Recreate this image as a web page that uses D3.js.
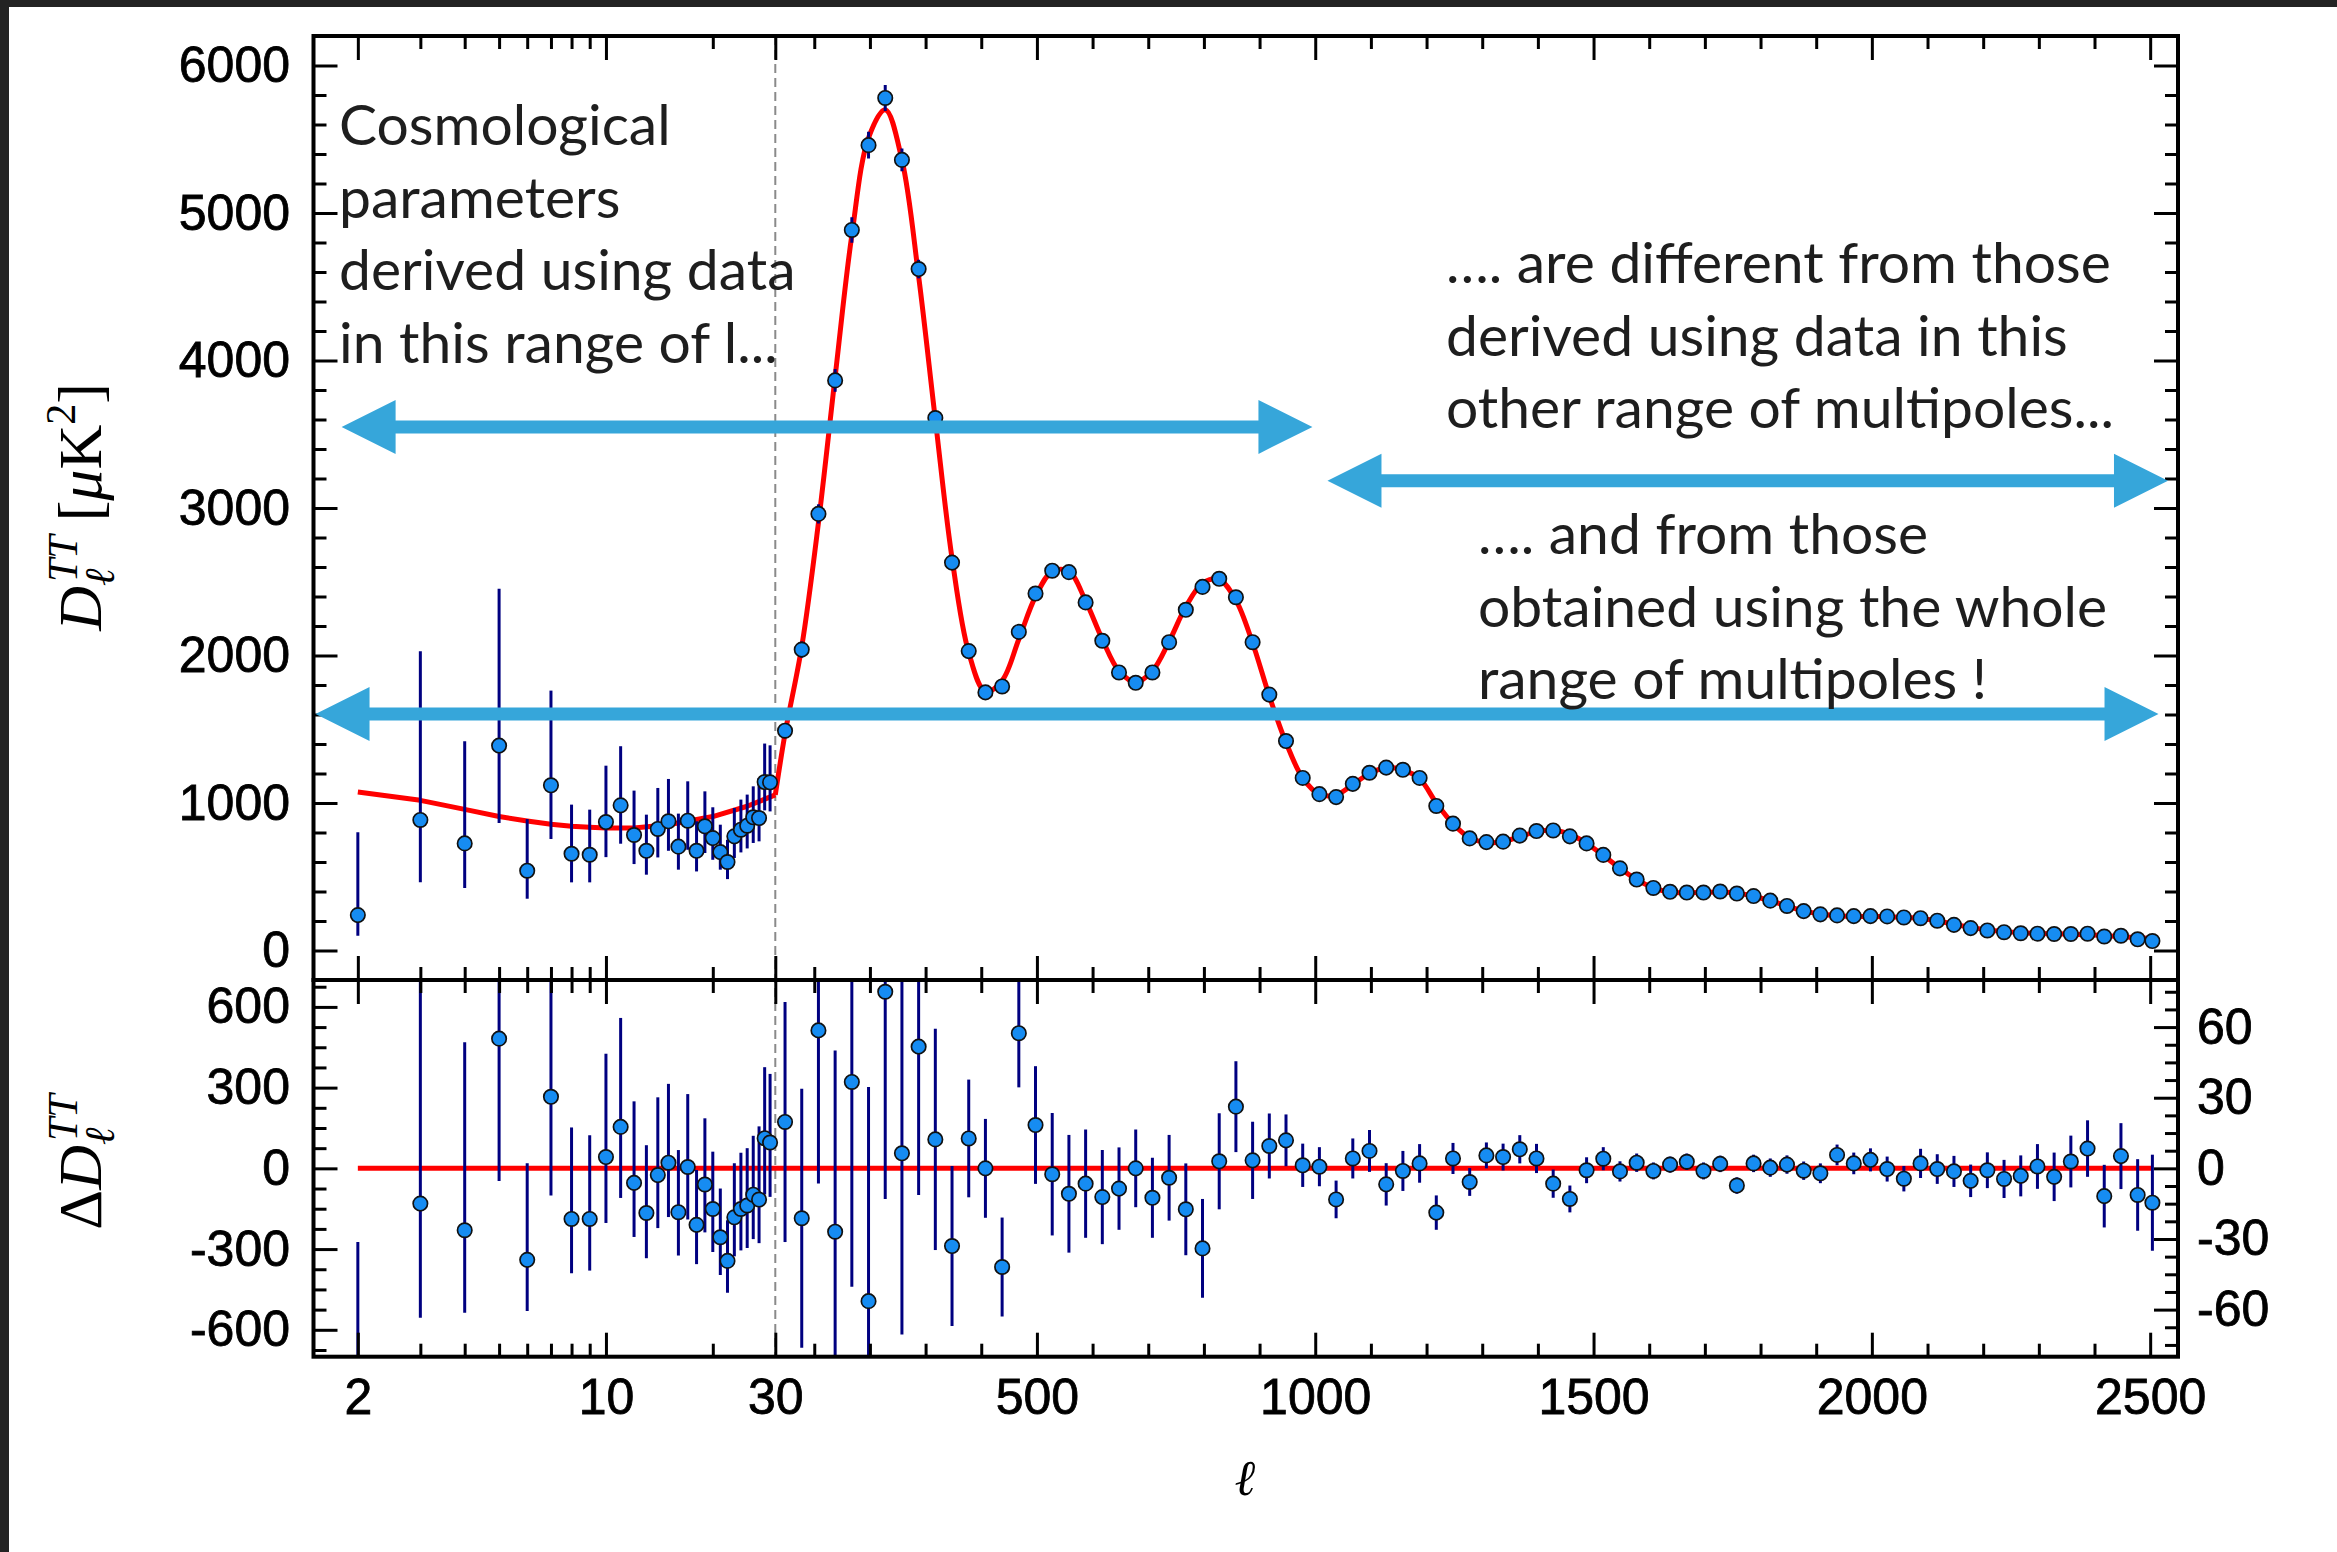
<!DOCTYPE html>
<html>
<head>
<meta charset="utf-8">
<script src="https://cdn.jsdelivr.net/npm/d3@7"></script>
<style>
  html, body { margin: 0; padding: 0; background: #fff; }
  svg { display: block; }
</style>
</head>
<body>
<svg id="chart" width="2337" height="1552"></svg>
<script>
// ---------------- data ----------------
// Low multipoles (unbinned, l = 2..29): D_l with asymmetric error-bar ends
const lowEll = [2, 3, 4, 5, 6, 7, 8, 9, 10, 11, 12, 13, 14, 15, 16, 17, 18, 19, 20, 21, 22, 23, 24, 25, 26, 27, 28, 29];
const lowD   = [240, 885, 726, 1389, 541, 1120, 656, 649, 871, 984, 783, 676, 824, 876, 704, 880, 676, 842, 762, 667, 600, 774, 819, 846, 903, 898, 1142, 1140];
const lowDLo = [100, 462, 423, 864, 351, 756, 462, 462, 633, 724, 586, 514, 631, 676, 548, 683, 536, 661, 615, 548, 484, 627, 665, 692, 729, 740, 950, 943];
const lowDHi = [801, 2029, 1419, 2452, 891, 1762, 989, 955, 1253, 1385, 1084, 921, 1102, 1163, 928, 1147, 876, 1079, 971, 853, 751, 966, 1023, 1057, 1113, 1170, 1403, 1391];

// Low-l residuals (left-hand scale) and their error-bar ends
const lowRes   = [-835, -131, -230, 482, -340, 266, -188, -188, 42, 154, -54, -166, -25, 21, -163, 5, -210, -60, -151, -256, -344, -182, -151, -138, -98, -116, 112, 96];
const lowResLo = [-975, -555, -537, -47, -530, -101, -390, -380, -203, -110, -255, -334, -222, -181, -324, -190, -356, -238, -311, -396, -462, -327, -305, -296, -263, -278, -97, -106];
const lowResHi = [-274, 1013, 469, 1545, 19, 908, 152, 123, 426, 559, 249, 86, 264, 314, 68, 276, -6, 186, 62, -75, -193, 19, 58, 75, 121, 156, 376, 351];

// High multipoles, binned (bin centres)
const binEll = [47.5, 77.5, 107.5, 137.5, 167.5, 197.5, 227.5, 257.5, 287.5, 317.5, 347.5, 377.5, 407.5, 437.5, 467.5, 497.5, 527.5, 557.5, 587.5, 617.5, 647.5, 677.5, 707.5, 737.5, 767.5, 797.5, 827.5, 857.5, 887.5, 917.5, 947.5, 977.5, 1007.5, 1037.5, 1067.5, 1097.5, 1127.5, 1157.5, 1187.5, 1217.5, 1247.5, 1277.5, 1307.5, 1337.5, 1367.5, 1397.5, 1427.5, 1457.5, 1487.5, 1517.5, 1547.5, 1577.5, 1607.5, 1637.5, 1667.5, 1697.5, 1727.5, 1757.5, 1787.5, 1817.5, 1847.5, 1877.5, 1907.5, 1937.5, 1967.5, 1997.5, 2027.5, 2057.5, 2087.5, 2117.5, 2147.5, 2177.5, 2207.5, 2237.5, 2267.5, 2297.5, 2327.5, 2357.5, 2387.5, 2417.5, 2447.5, 2477.5, 2504];
const binD = [1490, 2040, 2960, 3865, 4885, 5460, 5780, 5360, 4620, 3610, 2630, 2030, 1750, 1790, 2160, 2420, 2575, 2565, 2360, 2100, 1885, 1815, 1885, 2090, 2310, 2465, 2520, 2395, 2090, 1735, 1420, 1170, 1060, 1040, 1130, 1205, 1240, 1225, 1170, 980, 860, 760, 735, 738, 779, 810, 814, 774, 726, 648, 557, 481, 424, 398, 393, 393, 400, 386, 369, 338, 302, 267, 245, 238, 233, 233, 231, 224, 219, 202, 174, 152, 136, 124, 117, 114, 112, 112, 114, 95, 100, 76, 64];
const binSigma = [51, 55, 65, 77, 87, 91, 88, 77, 63, 47, 34, 25, 21, 21, 23, 25, 26, 25, 23, 20, 17.5, 16.5, 17, 18.2, 19.5, 21, 20.4, 19.3, 16.4, 13.8, 11, 9.2, 8.3, 8, 8.5, 8.9, 9, 8.5, 8.2, 7.3, 6.6, 5.9, 5.5, 5.7, 6, 6.2, 6, 5.7, 5.5, 4.9, 4.3, 3.9, 3.6, 3.4, 3.5, 3.6, 3.5, 3.5, 3.7, 3.9, 3.9, 3.9, 4.2, 4.4, 4.6, 4.9, 5.3, 5.4, 6.2, 6.3, 6.6, 6.9, 7.6, 8.1, 8.7, 9.5, 10.3, 11, 12, 13.3, 14, 15.2, 20.4];
// Binned residuals (right-hand scale)
const binRes = [19.7, -21.2, 58.6, -26.9, 36.7, -56.4, 75, 6.4, 51.7, 12.3, -33, 12.7, 0, -41.9, 57.4, 18.4, -2.5, -10.8, -6.5, -12.2, -8.6, 0, -12.5, -4, -17.4, -34, 3, 26.2, 3.4, 9.5, 11.9, 1.3, 0.7, -13.2, 4.2, 7.4, -6.8, -1.1, 2.1, -18.8, 4.2, -5.8, 5.5, 4.8, 8.1, 4.2, -6.5, -13, -0.8, 4.1, -1.3, 2.4, -1.1, 1.6, 2.8, -1.1, 1.9, -7.3, 2.1, 0.3, 1.6, -1, -2.1, 5.7, 2.1, 3.6, -0.3, -4.4, 2.1, -0.3, -1.3, -5.3, -0.8, -4.5, -3.2, 0.8, -3.6, 2.9, 8.4, -11.8, 5.2, -11.3, -14.6];

// Best-fit model curve
const modelLowEll = [2, 3, 4, 5, 6, 7, 8, 9, 10, 12, 15, 20, 25, 30];
const modelLowD   = [1075, 1018, 957, 908, 878, 856, 843, 835, 830, 830, 852, 908, 978, 1055];
const modelHighEll = [30].concat(binEll);
const modelHighD = [1055, 1470, 2060, 2900, 3890, 4850, 5510, 5700, 5360, 4570, 3600, 2660, 2020, 1755, 1830, 2110, 2400, 2570, 2570, 2370, 2110, 1895, 1820, 1895, 2095, 2330, 2490, 2515, 2375, 2085, 1725, 1410, 1170, 1060, 1055, 1125, 1200, 1240, 1225, 1165, 1000, 860, 765, 732, 738, 772, 806, 817, 787, 727, 645, 558, 480, 425, 396, 391, 394, 396, 390, 368, 338, 302, 269, 247, 236, 232, 231, 229, 225, 216, 202, 177, 157, 140, 128, 120, 115, 113, 111, 107, 101, 94, 87, 80];

// Tick values / labels
const xMajorLog = [2, 10];
const xMinorLog = [3, 4, 5, 6, 7, 8, 9, 20];
const xMajorLin = [30, 500, 1000, 1500, 2000, 2500];
const yTopMajor = [0, 1000, 2000, 3000, 4000, 5000, 6000];
const yResLowMajor = [-600, -300, 0, 300, 600];
const yResHighMajor = [-60, -30, 0, 30, 60];

// ---------------- layout ----------------
const W = 2337, H = 1552;
const F = { left: 313.5, right: 2178, top: 36, mid: 980, bottom: 1356.7, brk: 775.3 };
const MAJ = 24, MIN = 13;
const TICK_FONT = "'Liberation Sans', Arial, Helvetica, sans-serif";
const MATH_FONT = "'Liberation Serif', 'DejaVu Serif', 'Times New Roman', serif";
const NOTE_FONT = "Lato, 'Open Sans', sans-serif";
const POINT_FILL = "#168cf2", BAR = "#000080", MODEL = "#ff0000", NOTE_BLUE = "#36a6da";
const PT_R = 7.2;

const svg = d3.select("#chart");

// scales: log below l=30, linear above
const xLog = d3.scaleLog().domain([1.5, 30]).range([F.left, F.brk]);
const xLin = d3.scaleLinear().domain([30, 2550]).range([F.brk, F.right]);
const xAt = l => (l < 30 ? xLog(l) : xLin(l));
const yTop = d3.scaleLinear().domain([-200, 6200]).range([F.mid, F.top]);
const yResLow = d3.scaleLinear().domain([-700, 700]).range([F.bottom, F.mid]);
const yResHigh = d3.scaleLinear().domain([-80, 80]).range([F.bottom, F.mid]);

// background and dark page edges
svg.append("rect").attr("width", W).attr("height", H).attr("fill", "#fff");
svg.append("rect").attr("x", 0).attr("y", 0).attr("width", W).attr("height", 7).attr("fill", "#232323");
svg.append("rect").attr("x", 0).attr("y", 0).attr("width", 9).attr("height", H).attr("fill", "#232323");

const defs = svg.append("defs");
defs.append("clipPath").attr("id", "clip-top").append("rect")
  .attr("x", F.left).attr("y", F.top).attr("width", F.right - F.left).attr("height", F.mid - F.top);
defs.append("clipPath").attr("id", "clip-bot").append("rect")
  .attr("x", F.left).attr("y", F.mid).attr("width", F.right - F.left).attr("height", F.bottom - F.mid);

// dashed separator at l = 30
svg.append("line")
  .attr("x1", xLin(30)).attr("x2", xLin(30)).attr("y1", F.top).attr("y2", F.bottom)
  .attr("stroke", "#8a8a8a").attr("stroke-width", 2).attr("stroke-dasharray", "9,5");

// ---------- upper panel ----------
const gTop = svg.append("g").attr("clip-path", "url(#clip-top)");

gTop.append("path")
  .datum(modelLowEll.map((l, i) => [l, modelLowD[i]]))
  .attr("fill", "none").attr("stroke", MODEL).attr("stroke-width", 5).attr("stroke-linejoin", "round")
  .attr("d", d3.line().x(d => xLog(d[0])).y(d => yTop(d[1])));
gTop.append("path")
  .datum(modelHighEll.map((l, i) => [l, modelHighD[i]]))
  .attr("fill", "none").attr("stroke", MODEL).attr("stroke-width", 5).attr("stroke-linejoin", "round")
  .attr("d", d3.line().x(d => xLin(d[0])).y(d => yTop(d[1])).curve(d3.curveCatmullRom.alpha(0.5)));

const lowTop = lowEll.map((l, i) => ({ l, v: lowD[i], lo: lowDLo[i], hi: lowDHi[i] }));
const highTop = binEll.map((l, i) => ({ l, v: binD[i], lo: binD[i] - binSigma[i], hi: binD[i] + binSigma[i] }));
const allTop = lowTop.concat(highTop);

gTop.selectAll("line.err").data(allTop).join("line").attr("class", "err")
  .attr("x1", d => xAt(d.l)).attr("x2", d => xAt(d.l))
  .attr("y1", d => yTop(d.lo)).attr("y2", d => yTop(d.hi))
  .attr("stroke", BAR).attr("stroke-width", 3);
gTop.selectAll("circle.pt").data(allTop).join("circle").attr("class", "pt")
  .attr("cx", d => xAt(d.l)).attr("cy", d => yTop(d.v)).attr("r", PT_R)
  .attr("fill", POINT_FILL).attr("stroke", "#111").attr("stroke-width", 1.7);

// ---------- residual panel ----------
const gBot = svg.append("g").attr("clip-path", "url(#clip-bot)");
gBot.append("line")
  .attr("x1", xLog(2)).attr("x2", xLin(binEll[binEll.length - 1]))
  .attr("y1", yResLow(0)).attr("y2", yResLow(0))
  .attr("stroke", MODEL).attr("stroke-width", 5);

const lowBot = lowEll.map((l, i) => ({ x: xLog(l), y: yResLow(lowRes[i]), y1: yResLow(lowResLo[i]), y2: yResLow(lowResHi[i]) }));
const highBot = binEll.map((l, i) => ({ x: xLin(l), y: yResHigh(binRes[i]), y1: yResHigh(binRes[i] - binSigma[i]), y2: yResHigh(binRes[i] + binSigma[i]) }));
const allBot = lowBot.concat(highBot);

gBot.selectAll("line.err").data(allBot).join("line").attr("class", "err")
  .attr("x1", d => d.x).attr("x2", d => d.x).attr("y1", d => d.y1).attr("y2", d => d.y2)
  .attr("stroke", BAR).attr("stroke-width", 3);
gBot.selectAll("circle.pt").data(allBot).join("circle").attr("class", "pt")
  .attr("cx", d => d.x).attr("cy", d => d.y).attr("r", PT_R)
  .attr("fill", POINT_FILL).attr("stroke", "#111").attr("stroke-width", 1.7);

// ---------- axes ----------
function clean(g) {
  g.select(".domain").remove();
  g.selectAll(".tick line").attr("stroke", "#000").attr("stroke-width", 3);
  g.selectAll(".tick text").attr("font-family", TICK_FONT).attr("font-size", 50).attr("fill", "#000")
    .attr("stroke", "#000").attr("stroke-width", 0.8);
}
const xMinorLin = d3.range(100, 2500, 100).filter(v => v % 500 !== 0);

// horizontal tick rows: dir "down" or "up"
function xTickRow(y, dir) {
  const mk = (scale, vals, len) => {
    const ax = (dir === "down" ? d3.axisBottom(scale) : d3.axisTop(scale))
      .tickValues(vals).tickSize(len).tickFormat("");
    svg.append("g").attr("transform", `translate(0,${y})`).call(ax).call(clean);
  };
  mk(xLog, xMajorLog, MAJ); mk(xLog, xMinorLog, MIN);
  mk(xLin, xMajorLin, MAJ); mk(xLin, xMinorLin, MIN);
}
xTickRow(F.top, "down");
xTickRow(F.mid, "up");
xTickRow(F.mid, "down");
xTickRow(F.bottom, "up");

// x tick labels
svg.append("g").attr("transform", `translate(0,${F.bottom})`)
  .call(d3.axisBottom(xLog).tickValues(xMajorLog).tickSize(0).tickPadding(22).tickFormat(d => String(d))).call(clean);
svg.append("g").attr("transform", `translate(0,${F.bottom})`)
  .call(d3.axisBottom(xLin).tickValues(xMajorLin).tickSize(0).tickPadding(22).tickFormat(d => String(d))).call(clean);

// vertical ticks: inward on both sides
function yTickCol(scale, major, minor) {
  [[major, MAJ], [minor, MIN]].forEach(([vals, len]) => {
    svg.append("g").attr("transform", `translate(${F.left},0)`)
      .call(d3.axisRight(scale).tickValues(vals).tickSize(len).tickFormat("")).call(clean);
    svg.append("g").attr("transform", `translate(${F.right},0)`)
      .call(d3.axisLeft(scale).tickValues(vals).tickSize(len).tickFormat("")).call(clean);
  });
}
yTickCol(yTop, yTopMajor, d3.range(200, 6200, 200).filter(v => v % 1000 !== 0));
// residual panel: left scale on the left edge, right scale on the right edge
[[yResLowMajor, MAJ], [d3.range(-675, 700, 75).filter(v => v % 300 !== 0), MIN]].forEach(([vals, len]) => {
  svg.append("g").attr("transform", `translate(${F.left},0)`)
    .call(d3.axisRight(yResLow).tickValues(vals).tickSize(len).tickFormat("")).call(clean);
});
[[yResHighMajor, MAJ], [d3.range(-75, 80, 7.5).filter(v => Math.abs(v % 30) > 1e-6), MIN]].forEach(([vals, len]) => {
  svg.append("g").attr("transform", `translate(${F.right},0)`)
    .call(d3.axisLeft(yResHigh).tickValues(vals).tickSize(len).tickFormat("")).call(clean);
});

// y tick labels
svg.append("g").attr("transform", `translate(${F.left},0)`)
  .call(d3.axisLeft(yTop).tickValues(yTopMajor).tickSize(0).tickPadding(23.5).tickFormat(d => String(d))).call(clean);
svg.append("g").attr("transform", `translate(${F.left},0)`)
  .call(d3.axisLeft(yResLow).tickValues(yResLowMajor).tickSize(0).tickPadding(23.5).tickFormat(d => String(d))).call(clean);
svg.append("g").attr("transform", `translate(${F.right},0)`)
  .call(d3.axisRight(yResHigh).tickValues(yResHighMajor).tickSize(0).tickPadding(19).tickFormat(d => String(d))).call(clean);

// panel frames
[[F.top, F.mid], [F.mid, F.bottom]].forEach(([y0, y1]) => {
  svg.append("rect").attr("x", F.left).attr("y", y0).attr("width", F.right - F.left).attr("height", y1 - y0)
    .attr("fill", "none").attr("stroke", "#000").attr("stroke-width", 4);
});

// ---------- axis titles ----------
svg.append("text")
  .attr("x", 1245).attr("y", 1495).attr("text-anchor", "middle")
  .attr("font-family", "'DejaVu Serif', serif").attr("font-style", "italic").attr("font-size", 50)
  .text("ℓ");

function mathTitle(centerY, baseX, parts) {
  const outer = svg.append("g").attr("transform", `translate(${baseX},${centerY}) rotate(-90)`);
  const g = outer.append("g");
  let cursor = 0;
  const put = (txt, x, y, fs, italic) => g.append("text")
    .attr("x", x).attr("y", y).attr("font-family", MATH_FONT).attr("font-size", fs)
    .attr("font-style", italic ? "italic" : "normal").attr("fill", "#000").text(txt)
    .node().getComputedTextLength();
  parts.forEach(p => {
    if (p.stack) {
      const w1 = put(p.stack[0], cursor + 4, -24, 42, true);
      const w2 = put(p.stack[1], cursor, 13, 42, true);
      cursor += Math.max(w1 + 4, w2) + (p.gap || 0);
    } else {
      cursor += put(p.t, cursor, p.dy || 0, p.fs || 62, !!p.it) + (p.gap || 0);
    }
  });
  g.attr("transform", `translate(${-cursor / 2},0)`);
}
mathTitle(507, 101, [
  { t: "D", it: true }, { stack: ["TT", "ℓ"], gap: 14 },
  { t: "[" }, { t: "μ", it: true }, { t: "K" }, { t: "2", fs: 42, dy: -26 }, { t: "]" }
]);
mathTitle(1162, 101, [
  { t: "Δ" }, { t: "D", it: true }, { stack: ["TT", "ℓ"] }
]);

// ---------- annotation arrows ----------
function doubleArrow(x1, x2, y) {
  const hl = 54, hw = 27, sw = 6.5;
  const p = `M${x1},${y} L${x1 + hl},${y - hw} L${x1 + hl},${y - sw} L${x2 - hl},${y - sw} L${x2 - hl},${y - hw} L${x2},${y} ` +
            `L${x2 - hl},${y + hw} L${x2 - hl},${y + sw} L${x1 + hl},${y + sw} L${x1 + hl},${y + hw} Z`;
  svg.append("path").attr("d", p).attr("fill", NOTE_BLUE);
}
doubleArrow(xLog(1.8), xLin(995), yTop(3550));
doubleArrow(xLin(1022), xLin(2532), yTop(3185));
doubleArrow(xLog(1.52), xLin(2515), yTop(1603));

// ---------- annotation text ----------
function note(x, y0, lines) {
  lines.forEach((s, i) => {
    svg.append("text").attr("x", x).attr("y", y0 + i * 72.5)
      .attr("font-family", NOTE_FONT).attr("font-size", 57).attr("fill", "#1e1e1e").text(s);
  });
}
note(339, 145, ["Cosmological", "parameters", "derived using data", "in this range of l..."]);
note(1446, 283, ["…. are different from those", "derived using data in this", "other range of multipoles..."]);
note(1478, 554, ["…. and from those", "obtained using the whole", "range of multipoles !"]);
</script>
</body>
</html>
